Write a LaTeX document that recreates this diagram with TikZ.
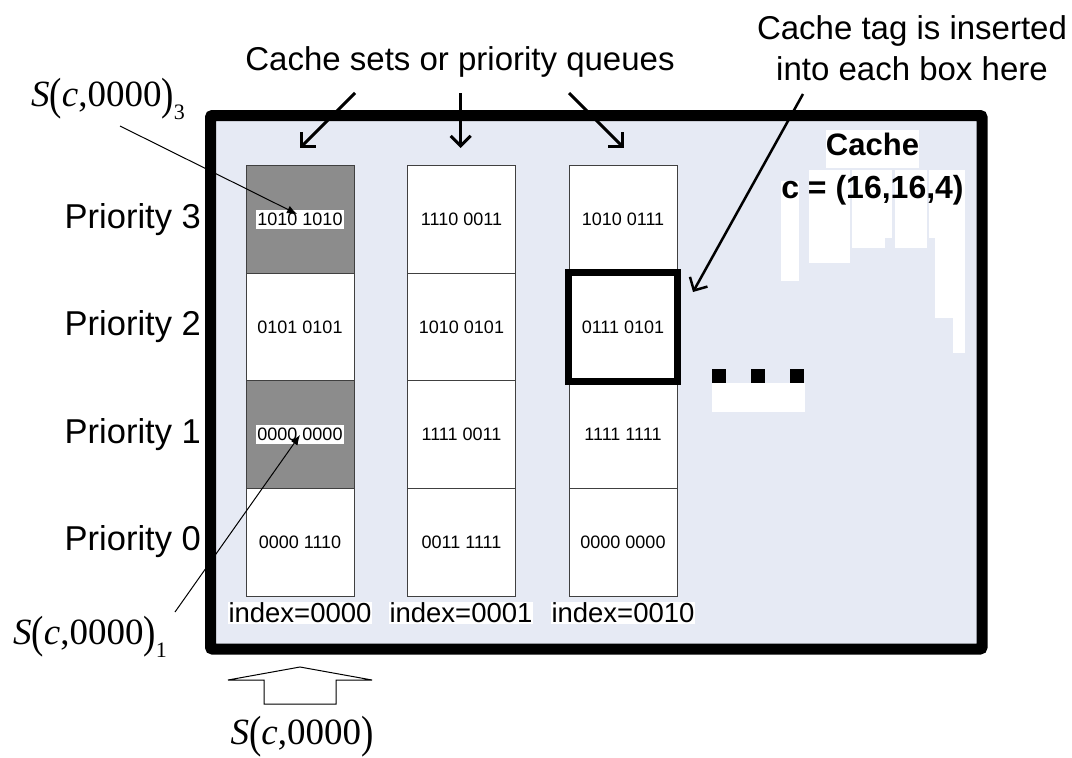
\documentclass[tikz,border=0pt]{standalone}
\usepackage{fontspec}
\usepackage{graphicx}
\setmainfont{Liberation Sans}
\newfontfamily\tnr{Liberation Serif}
\usetikzlibrary{arrows.meta}
\definecolor{framebg}{HTML}{E6EAF4}
\definecolor{cellgray}{HTML}{8C8C8C}
\newcommand{\bigparL}{\raisebox{-0.1em}{\scalebox{1}[1.22]{(}}}
\newcommand{\bigparR}{\raisebox{-0.1em}{\scalebox{1}[1.22]{)}}}
\begin{document}
\begin{tikzpicture}[x=1pt,y=-1pt,
  cellbox/.style={draw=black!75,line width=1pt,fill=white,minimum width=108pt,minimum height=107.75pt,inner sep=0pt,font=\fontsize{18}{20}\selectfont},
  grayfill/.style={fill=cellgray},
  prio/.style={anchor=east,inner sep=0pt,font=\fontsize{34.5}{38}\selectfont},
  idx/.style={fill=white,inner sep=1pt,font=\fontsize{27.5}{30}\selectfont},
  bigtxt/.style={inner sep=0pt,font=\fontsize{33}{41}\selectfont},
  slabel/.style={inner sep=0pt,font=\tnr\fontsize{37}{40}\selectfont},
  openarrow/.style={line width=3pt,-{Straight Barb[length=10pt,width=20pt]}},
  thinarrow/.style={line width=1pt,-{Latex[length=10pt,width=8pt]}}
]
\useasboundingbox (0,0) rectangle (1072,758);
% cache frame
\draw[line width=11pt,fill=framebg,rounded corners=2pt] (210.5,115.5) rectangle (982,649);
% white patches
\fill[white] (826,130) rectangle (919,168);
\fill[white] (781,181) rectangle (799,281);
\fill[white] (809,170) rectangle (850,263);
\fill[white] (852,170) rectangle (885,248);
\fill[white] (885,170) rectangle (892,238);
\fill[white] (895,170) rectangle (927,248);
\fill[white] (929,170) rectangle (965,238);
\fill[white] (935,170) rectangle (965,318);
\fill[white] (953,170) rectangle (965,353);
% ellipsis
\fill[white] (712,383) rectangle (805,412);
\fill[black] (712,369) rectangle (726,383);
\fill[black] (751,369) rectangle (765,383);
\fill[black] (790,369) rectangle (804,383);
% cells
\node[cellbox,grayfill] (c13) at (300,219.2) {\colorbox{white}{\hspace{-2pt}1010 1010\hspace{-2pt}}};
\node[cellbox] (c12) at (300,327) {0101 0101};
\node[cellbox,grayfill] (c11) at (300,434.7) {\colorbox{white}{\hspace{-2pt}0000 0000\hspace{-2pt}}};
\node[cellbox] (c10) at (300,542.4) {0000 1110};
\node[cellbox] (c23) at (461.5,219.2) {1110 0011};
\node[cellbox] (c22) at (461.5,327) {1010 0101};
\node[cellbox] (c21) at (461.5,434.7) {1111 0011};
\node[cellbox] (c20) at (461.5,542.4) {0011 1111};
\node[cellbox] (c33) at (623,219.2) {1010 0111};
\node[cellbox] (c32) at (623,327) {0111 0101};
\node[cellbox] (c31) at (623,434.7) {1111 1111};
\node[cellbox] (c30) at (623,542.4) {0000 0000};
\draw[line width=7pt] (c32.north west) rectangle (c32.south east);
% priority labels
\node[prio] (p3) at (201,220) {Priority 3};
\node[prio] (p2) at (201,327) {Priority 2};
\node[prio] (p1) at (201,435) {Priority 1};
\node[prio] (p0) at (201,542) {Priority 0};
% index labels
\node[idx] (i0) at (300,613) {index=0000};
\node[idx] (i1) at (461,613) {index=0001};
\node[idx] (i2) at (623,613) {index=0010};
% cache label
\node[inner sep=0pt,font=\bfseries\fontsize{31}{34}\selectfont] (cache) at (872.5,144) {Cache};
\node[inner sep=0pt,font=\bfseries\fontsize{32}{34}\selectfont] (cdef) at (872.5,190) {c = (16,16,4)};
% titles
\node[bigtxt] (sets) at (460,62) {Cache sets or priority queues};
\node[bigtxt,align=center] (tag) at (912,48) {Cache tag is inserted\\into each box here};
\coordinate (a1s) at (355,93); \coordinate (a1e) at (300,148);
\coordinate (a2s) at (460.7,93); \coordinate (a2e) at (460.7,148);
\coordinate (a3s) at (569,93); \coordinate (a3e) at (624,148);
\draw[openarrow] (a1s) -- (a1e);
\draw[openarrow] (a2s) -- (a2e);
\draw[openarrow] (a3s) -- (a3e);
\coordinate (tags) at (803,94); \coordinate (tage) at (693,292);
\draw[line width=2.5pt,-{Straight Barb[length=10pt,width=20pt]}] (tags) -- (tage);
% S labels
\node[slabel] (s3) at (108,99) {{\itshape S}\bigparL\textit{c},0000\bigparR\raisebox{-0.35em}{\fontsize{22}{22}\selectfont 3}};
\node[slabel] (s1) at (90,637) {{\itshape S}\bigparL\textit{c},0000\bigparR\raisebox{-0.35em}{\fontsize{22}{22}\selectfont 1}};
\node[slabel] (s0) at (302,737) {{\itshape S}\bigparL\textit{c},0000\bigparR};
\coordinate (s3a) at (120,126); \coordinate (s3b) at (297,214);
\coordinate (s1a) at (175,612); \coordinate (s1b) at (300,435);
\draw[thinarrow] (s3a) -- (s3b);
\draw[thinarrow] (s1a) -- (s1b);
% block arrow
\draw[line width=1pt,fill=white,line join=miter] (300,667) -- (372,680) -- (336,680) -- (336,704) -- (264,704) -- (264,680) -- (228,680) -- cycle;
\end{tikzpicture}
\end{document}
